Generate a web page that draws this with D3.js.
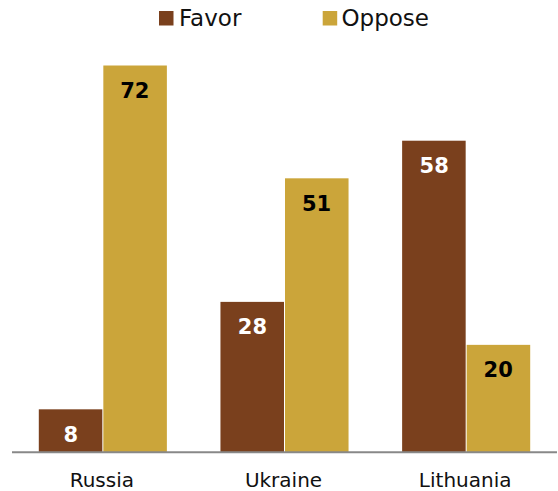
<!DOCTYPE html>
<html><head><meta charset="utf-8">
<script src="https://cdn.jsdelivr.net/npm/d3@7"></script>
<style>body{margin:0;background:#fff}svg{display:block}</style>
</head><body>
<svg id="c" width="558" height="491"></svg>
<script>
const categories = ["Russia", "Ukraine", "Lithuania"];
const seriesNames = ["Favor", "Oppose"];
const favor = [8, 28, 58];
const oppose = [72, 51, 20];
const colors = ["#7a401d", "#cba53a"];
const labelColors = ["#ffffff", "#000000"];

const svg = d3.select("#c");
const font = "'DejaVu Sans', Verdana, sans-serif";
const baseY = 452.3, x0 = 12, x1 = 557;

const x = d3.scaleBand().domain(categories).range([x0, x1]).paddingInner(0.295).paddingOuter(0.1475);
const xs = d3.scaleBand().domain(seriesNames).range([0, x.bandwidth()]);
const y = d3.scaleLinear().domain([0, 72]).range([baseY, 65.5]);

const data = [];
categories.forEach((c, i) => {
  data.push({c, s: "Favor", v: favor[i], k: 0});
  data.push({c, s: "Oppose", v: oppose[i], k: 1});
});

svg.selectAll("rect.bar").data(data).join("rect")
  .attr("class", "bar")
  .attr("x", d => x(d.c) + xs(d.s) + (d.k ? 0.5 : 0))
  .attr("width", xs.bandwidth() - 0.5)
  .attr("y", d => y(d.v))
  .attr("height", d => baseY - y(d.v))
  .attr("fill", d => colors[d.k]);

svg.selectAll("text.val").data(data).join("text")
  .attr("class", "val")
  .attr("x", d => x(d.c) + xs(d.s) + xs.bandwidth() / 2)
  .attr("y", d => y(d.v) + 32.2)
  .attr("text-anchor", "middle")
  .attr("font-family", font).attr("font-weight", "bold").attr("font-size", 21)
  .attr("fill", d => labelColors[d.k])
  .text(d => d.v);

// axis
const axis = svg.append("g").attr("transform", `translate(0,${baseY})`)
  .call(d3.axisBottom(x).tickSize(0).tickPadding(20.8));
axis.select(".domain").attr("stroke", "#888").attr("stroke-width", 2).attr("d", `M${x0},0H${x1}`);
axis.selectAll("text").attr("font-family", font).attr("font-size", 20).attr("fill", "#111").attr("dx", -1);

// legend
const leg = [{n: "Favor", sx: 159, tx: 179}, {n: "Oppose", sx: 322.7, tx: 341.5}];
leg.forEach((l, i) => {
  svg.append("rect").attr("x", l.sx).attr("y", 11).attr("width", 14.5).attr("height", 14.5).attr("fill", colors[i]);
  svg.append("text").attr("x", l.tx).attr("y", 26).attr("font-family", font).attr("font-size", 23)
    .attr("fill", "#111").text(seriesNames[i]);
});
</script>
</body></html>
